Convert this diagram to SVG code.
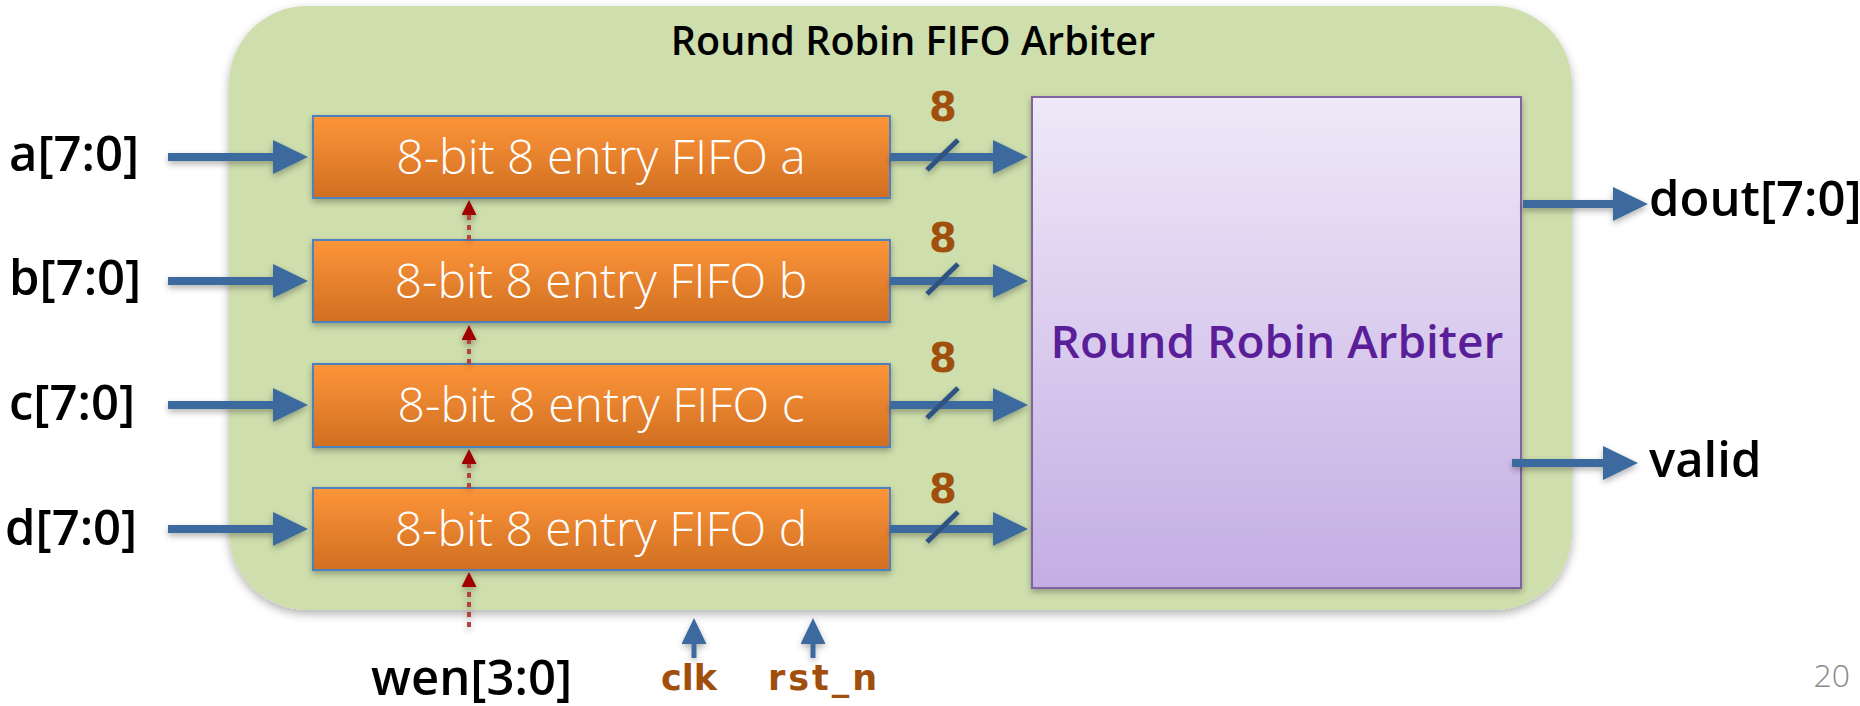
<svg xmlns="http://www.w3.org/2000/svg" width="1860" height="706" viewBox="0 0 1860 706">
  <style>
    .lbl { font-family: "Open Sans", "Liberation Sans", sans-serif; font-weight: 600; font-size: 49px; fill: #000; }
    .fifo-txt { font-family: "Open Sans", "Liberation Sans", sans-serif; font-weight: 300; font-size: 48px; fill: #fff; text-anchor: middle; }
    .width { font-family: "DejaVu Sans", "Liberation Sans", sans-serif; font-weight: bold; font-size: 40px; fill: #a04f0c; text-anchor: middle; }
    .ctl { font-family: "DejaVu Sans", "Liberation Sans", sans-serif; font-weight: bold; font-size: 35px; fill: #a04f0c; }
    .fifo { fill: url(#fifoGrad); stroke: #4f81bd; stroke-width: 2; filter: url(#shadow); }
    .bus { stroke: #3e6a9e; stroke-width: 8; fill: none; marker-end: url(#bigHead); }
    .ctl-line { stroke: #3e6a9e; stroke-width: 5; fill: none; marker-end: url(#smallHead); }
    .wen { stroke: #b8403c; stroke-width: 4; stroke-dasharray: 5 5; fill: none; marker-end: url(#redHead); }
    .slash { stroke: #2d5282; stroke-width: 5; }
  </style>
  <defs>
    <linearGradient id="fifoGrad" x1="0" y1="0" x2="0" y2="1">
      <stop offset="0" stop-color="#fd9539"/>
      <stop offset="1" stop-color="#d06f22"/>
    </linearGradient>
    <linearGradient id="arbGrad" x1="0" y1="0" x2="0" y2="1">
      <stop offset="0" stop-color="#efe9f8"/>
      <stop offset="1" stop-color="#c4ade4"/>
    </linearGradient>
    <filter id="shadow" x="-10%" y="-10%" width="120%" height="130%">
      <feDropShadow dx="0" dy="3" stdDeviation="3" flood-color="#000" flood-opacity="0.3"/>
    </filter>
    <filter id="panelShadow" x="-5%" y="-5%" width="110%" height="115%">
      <feDropShadow dx="0" dy="4" stdDeviation="5" flood-color="#000" flood-opacity="0.3"/>
    </filter>
    <marker id="bigHead" markerUnits="userSpaceOnUse" markerWidth="36" markerHeight="34" refX="2" refY="17" orient="auto">
      <path d="M0,0 L35,17 L0,34 Z" fill="#3e6a9e"/>
    </marker>
    <marker id="smallHead" markerUnits="userSpaceOnUse" markerWidth="27" markerHeight="25" refX="2" refY="12.5" orient="auto">
      <path d="M0,0 L26,12.5 L0,25 Z" fill="#3e6a9e"/>
    </marker>
    <marker id="redHead" markerUnits="userSpaceOnUse" markerWidth="16" markerHeight="16" refX="1" refY="7.5" orient="auto">
      <path d="M0,0 L15,7.5 L0,15 Z" fill="#a00000"/>
    </marker>
  </defs>

  <!-- enclosing module -->
  <g id="module">
    <rect x="229" y="6" width="1343" height="604" rx="78" ry="78" fill="#cedeac" filter="url(#panelShadow)"/>
    <text x="913" y="55" text-anchor="middle" style="font-family: 'Open Sans', 'Liberation Sans', sans-serif; font-weight: 600; font-size: 39.5px; fill: #000;">Round Robin FIFO Arbiter</text>
  </g>

  <!-- FIFOs -->
  <g id="fifo-a">
    <rect class="fifo" x="313" y="116" width="577" height="82"/>
    <text class="fifo-txt" x="601" y="174">8-bit 8 entry FIFO a</text>
  </g>
  <g id="fifo-b">
    <rect class="fifo" x="313" y="240" width="577" height="82"/>
    <text class="fifo-txt" x="601" y="298">8-bit 8 entry FIFO b</text>
  </g>
  <g id="fifo-c">
    <rect class="fifo" x="313" y="364" width="577" height="83"/>
    <text class="fifo-txt" x="601" y="422">8-bit 8 entry FIFO c</text>
  </g>
  <g id="fifo-d">
    <rect class="fifo" x="313" y="488" width="577" height="82"/>
    <text class="fifo-txt" x="601" y="546">8-bit 8 entry FIFO d</text>
  </g>

  <!-- arbiter -->
  <g id="arbiter">
    <rect x="1032" y="97" width="489" height="491" fill="url(#arbGrad)" stroke="#8064a2" stroke-width="2" filter="url(#shadow)"/>
    <text x="1277" y="358" text-anchor="middle" style="font-family: 'Open Sans', 'Liberation Sans', sans-serif; font-weight: 600; font-size: 46px; fill: #5a1f98;">Round Robin Arbiter</text>
  </g>

  <!-- ports -->
  <g id="port-a"><text class="lbl" x="9" y="171">a[7:0]</text></g>
  <g id="port-b"><text class="lbl" x="9" y="295">b[7:0]</text></g>
  <g id="port-c"><text class="lbl" x="9" y="420">c[7:0]</text></g>
  <g id="port-d"><text class="lbl" x="5" y="545">d[7:0]</text></g>
  <g id="port-dout"><text class="lbl" x="1649" y="216">dout[7:0]</text></g>
  <g id="port-valid"><text class="lbl" x="1649" y="477">valid</text></g>
  <g id="port-wen"><text class="lbl" x="371" y="695">wen[3:0]</text></g>
  <g id="port-clk"><text class="ctl" x="661" y="690">clk</text></g>
  <g id="port-rst"><text class="ctl" x="768" y="690" letter-spacing="3">rst_n</text></g>

  <!-- bus widths -->
  <g id="widths">
    <text class="width" x="943" y="121">8</text>
    <text class="width" x="943" y="252">8</text>
    <text class="width" x="943" y="372">8</text>
    <text class="width" x="943" y="503">8</text>
  </g>

  <!-- connectors -->
  <g id="connectors" filter="url(#shadow)">
    <path class="bus" d="M168,157 H275"/>
    <path class="bus" d="M168,281 H275"/>
    <path class="bus" d="M168,405 H275"/>
    <path class="bus" d="M168,529 H275"/>

    <path class="bus" d="M890,157 H995"/>
    <path class="bus" d="M890,281 H995"/>
    <path class="bus" d="M890,405 H995"/>
    <path class="bus" d="M890,529 H995"/>

    <line class="slash" x1="927" y1="170" x2="958" y2="140"/>
    <line class="slash" x1="927" y1="294" x2="958" y2="264"/>
    <line class="slash" x1="927" y1="418" x2="958" y2="388"/>
    <line class="slash" x1="927" y1="542" x2="958" y2="512"/>

    <path class="bus" d="M1523,204 H1615"/>
    <path class="bus" d="M1512,463 H1605"/>

    <path class="ctl-line" d="M694,658 V642"/>
    <path class="ctl-line" d="M813,658 V642"/>

    <path class="wen" d="M469,627 V586"/>
    <path class="wen" d="M469,488 V463"/>
    <path class="wen" d="M469,364 V339"/>
    <path class="wen" d="M469,240 V214"/>
  </g>

  <text x="1850" y="687" text-anchor="end" style="font-family: 'Open Sans', 'Liberation Sans', sans-serif; font-weight: 300; font-size: 32px; fill: #8a8a8a;">20</text>
</svg>
